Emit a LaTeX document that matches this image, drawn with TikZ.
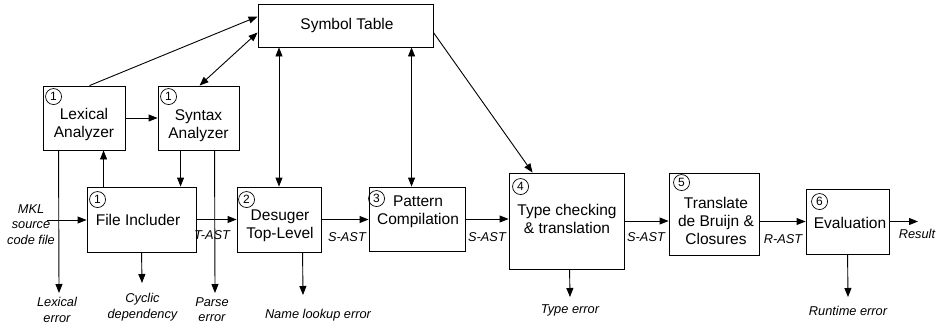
\documentclass[tikz,border=0pt]{standalone}
\usepackage{fontspec}
\setmainfont{Liberation Sans}
\usetikzlibrary{arrows.meta,calc}
\begin{document}
\begin{tikzpicture}[x=1pt,y=-1pt,
  box/.style={draw, line width=0.9pt, inner sep=0pt},
  txt/.style={font=\fontsize{15.5}{18}\selectfont, align=center, inner sep=0pt},
  lbl/.style={font=\fontsize{12.8}{15.5}\selectfont\itshape, align=center, inner sep=0pt},
  num/.style={draw, circle, line width=0.7pt, minimum size=16pt, inner sep=0pt, font=\fontsize{12}{12}\selectfont},
  arr/.style={line width=0.9pt, -{Triangle[length=9pt,width=7pt]}},
  darr/.style={line width=0.9pt, {Triangle[length=9pt,width=7pt]}-{Triangle[length=9pt,width=7pt]}},
]
\useasboundingbox (0,0) rectangle (944,324);

% boxes
\node[box, minimum width=82pt,  minimum height=64pt] (lex)   at (84,118) {};
\node[box, minimum width=81pt,  minimum height=64pt] (syn)   at (198.5,118) {};
\node[box, minimum width=109pt, minimum height=65pt] (fi)    at (141.5,219.5) {};
\node[box, minimum width=84pt,  minimum height=65pt] (des)   at (279,219.5) {};
\node[box, minimum width=175pt, minimum height=43pt] (sym)   at (345.5,25.5) {};
\node[box, minimum width=96pt,  minimum height=64pt] (pat)   at (417,219) {};
\node[box, minimum width=115pt, minimum height=96pt] (type)  at (566.5,221) {};
\node[box, minimum width=90pt,  minimum height=82pt] (trans) at (714,214) {};
\node[box, minimum width=83pt,  minimum height=65pt] (eval)  at (847.5,221.5) {};

% box texts
\node[txt] (lextxt)   at (84,124)    {Lexical\\Analyzer};
\node[txt] (syntxt)   at (198.5,126) {Syntax\\Analyzer};
\node[txt] (fitxt)    at (138,220)   {File Includer};
\node[txt] (destxt)   at (280,226)   {Desuger\\Top-Level};
\node[txt] (symtxt)   at (347,25)    {Symbol Table};
\node[txt] (pattxt)   at (418,212)   {Pattern\\Compilation};
\node[txt] (typetxt)  at (567,219)   {Type checking\\\& translation};
\node[txt] (transtxt) at (716,221)   {Translate\\de Bruijn \&\\Closures};
\node[txt] (evaltxt)  at (850,223)   {Evaluation};

% circled numbers
\node[num] (n1a) at ($(lex.north west)+(11,11)$)   {1};
\node[num] (n1b) at ($(syn.north west)+(11,11)$)   {1};
\node[num] (n1c) at ($(fi.north west)+(11,13)$)    {1};
\node[num] (n2)  at ($(des.north west)+(10,13)$)   {2};
\node[num] (n3)  at ($(pat.north west)+(8,12)$)    {3};
\node[num] (n4)  at ($(type.north west)+(12,14)$)  {4};
\node[num] (n5)  at ($(trans.north west)+(13,10)$) {5};
\node[num] (n6)  at ($(eval.north west)+(14,13)$)  {6};

% labels
\node[lbl] (mkl)     at (31,224.5)  {MKL\\source\\code file};
\node[lbl] (lexerr)  at (57,310)    {Lexical\\error};
\node[lbl] (cyc)     at (142.5,307) {Cyclic\\dependency};
\node[lbl] (parse)   at (212,309.5) {Parse\\error};
\node[lbl] (tast)    at (212,235)   {T-AST};
\node[lbl] (name)    at (318,315)   {Name lookup error};
\node[lbl] (sast1)   at (347,237)   {S-AST};
\node[lbl] (sast2)   at (487,237)   {S-AST};
\node[lbl] (typeerr) at (570,310)   {Type error};
\node[lbl] (sast3)   at (646,237)   {S-AST};
\node[lbl] (rast)    at (783,239)   {R-AST};
\node[lbl] (runerr)  at (848,311)   {Runtime error};
\node[lbl] (result)  at (917,234)   {Result};

% free ends
\coordinate (mklin)      at (47,220);
\coordinate (lexerrtip)  at (59,293);
\coordinate (cyctip)     at (142,283);
\coordinate (parsetip)   at (215,293);
\coordinate (nametip)    at (303,295);
\coordinate (typeerrtip) at (570,297);
\coordinate (runerrtip)  at (848,297);
\coordinate (restip)     at (918,221.5);

% connectors
\draw[arr]  ($(lex.north west)+(47,0)$) -- ($(sym.north west)+(0,13)$);
\draw[darr] ($(syn.north west)+(42,0)$) -- ($(sym.north west)+(0,29)$);
\draw[arr]  (lex.east) -- (syn.west);
\draw[arr]  ($(fi.north west)+(17,0)$) coordinate (fl) -- (fl |- lex.south);
\draw[arr]  ($(syn.south west)+(23,0)$) coordinate (sf) -- (sf |- fi.north);
\draw[arr]  (mklin) -- (mklin -| fi.west);
\draw[arr]  ($(lex.south west)+(16,0)$) -- (lexerrtip);
\draw[arr]  ($(fi.south west)+(55,0)$) -- (cyctip);
\draw[arr]  ($(syn.south west)+(57,0)$) -- (parsetip);
\draw[arr]  (fi.east) -- (fi.east -| des.west);
\draw[darr] (des.north) -- (des.north |- sym.south);
\draw[arr]  ($(des.south west)+(66,0)$) -- (nametip);
\draw[arr]  (des.east) -- (des.east -| pat.west);
\draw[darr] ($(pat.north west)+(43,0)$) coordinate (ps) -- (ps |- sym.south);
\draw[arr]  (pat.east) -- (pat.east -| type.west);
\draw[arr]  ($(sym.north east)+(0,29)$) -- ($(type.north west)+(24,0)$);
\draw[arr]  ($(type.south west)+(61,0)$) -- (typeerrtip);
\draw[arr]  (type.east) -- (type.east -| trans.west);
\draw[arr]  (eval.west -| trans.east) -- (eval.west);
\draw[arr]  (eval.east) -- (restip);
\draw[arr]  ($(eval.south west)+(42,0)$) -- (runerrtip);
\end{tikzpicture}
\end{document}
